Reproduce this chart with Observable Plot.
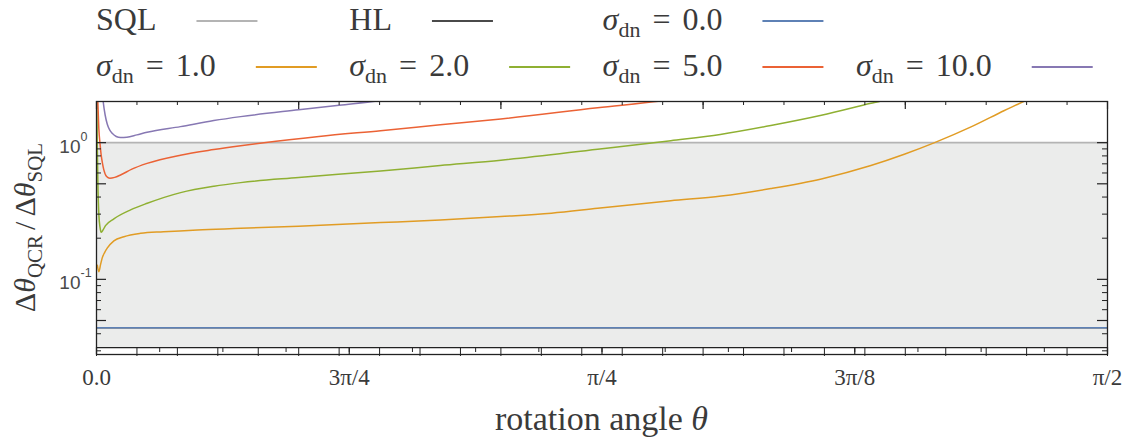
<!DOCTYPE html>
<html>
<head>
<meta charset="utf-8">
<script src="https://cdn.jsdelivr.net/npm/d3@7"></script>
<script src="https://cdn.jsdelivr.net/npm/@observablehq/plot@0.6"></script>
<style>
  html, body { margin: 0; padding: 0; background: #fff; }
  #chart { width: 1128px; height: 439px; overflow: hidden; }
  #chart svg { display: block; }
</style>
</head>
<body>
<div id="chart"></div>
<script>
// ---------------- data ----------------
// x values are the rotation angle θ in units of π/2 (0 … 1)
const sigmaLabels = ["0.0", "1.0", "2.0", "5.0", "10.0"];

const sqlLevel = 1.0;          // SQL reference (ratio = 1)
const hlLevel = 0.0443;        // HL (hidden under σ=0 line)
const bandLow = Math.pow(10, -1.5);

const sigma0X = [0, 1];
const sigma0Y = [0.0443, 0.0443];

const sigma1X = [0.0008, 0.0023, 0.0040, 0.0056, 0.0080, 0.0106, 0.0172, 0.0271, 0.0436, 0.0663, 0.0997, 0.1426, 0.200, 0.281, 0.340, 0.400, 0.450, 0.4957, 0.568, 0.618, 0.667, 0.717, 0.766, 0.799, 0.829, 0.865, 0.898, 0.918, 0.930];
const sigma1Y = [0.127, 0.1138, 0.128, 0.143, 0.157, 0.169, 0.191, 0.205, 0.217, 0.223, 0.230, 0.236, 0.245, 0.260, 0.272, 0.288, 0.305, 0.331, 0.376, 0.407, 0.462, 0.543, 0.680, 0.822, 1.000, 1.303, 1.718, 2.018, 2.240];

const sigma2X = [0.0002, 0.0008, 0.0015, 0.0023, 0.0035, 0.0046, 0.0060, 0.0089, 0.0172, 0.0337, 0.0502, 0.0832, 0.1162, 0.1426, 0.200, 0.281, 0.340, 0.400, 0.4957, 0.568, 0.617, 0.667, 0.717, 0.766, 0.776, 0.790];
const sigma2Y = [2.5, 0.90, 0.45, 0.30, 0.24, 0.221, 0.227, 0.247, 0.277, 0.322, 0.360, 0.431, 0.480, 0.510, 0.556, 0.621, 0.680, 0.743, 0.895, 1.034, 1.148, 1.334, 1.585, 1.940, 2.020, 2.150];

const sigma5X = [0.0004, 0.0013, 0.0023, 0.0035, 0.0046, 0.0060, 0.0072, 0.0100, 0.0132, 0.0180, 0.0238, 0.035, 0.050, 0.083, 0.116, 0.1426, 0.1657, 0.220, 0.281, 0.340, 0.400, 0.4957, 0.558, 0.580];
const sigma5Y = [3.5, 2.0, 1.27, 0.98, 0.813, 0.70, 0.635, 0.565, 0.549, 0.557, 0.580, 0.640, 0.705, 0.810, 0.890, 0.950, 1.000, 1.110, 1.224, 1.350, 1.490, 1.800, 2.020, 2.120];

const sigma10X = [0.0045, 0.0066, 0.0085, 0.0106, 0.0130, 0.0155, 0.0195, 0.0238, 0.030, 0.040, 0.050, 0.083, 0.116, 0.1426, 0.200, 0.240, 0.278, 0.300];
const sigma10Y = [3.0, 2.0, 1.60, 1.37, 1.24, 1.17, 1.11, 1.09, 1.095, 1.14, 1.19, 1.31, 1.45, 1.55, 1.74, 1.88, 2.02, 2.12];

// ticks
const xTickValues = [0, 0.25, 0.5, 0.75, 1];
const xTickLabels = ["0.0", "3π/4", "π/4", "3π/8", "π/2"];
const xMinorBottom = d3.range(0, 1.0001, 1 / 16);
const xTopTicks = [0, 0.2, 0.4, 0.6, 0.8, 1.0];
const xTopMinor = d3.range(0, 1.0001, 0.04);
const yTickValues = [0.1, 1];
const yTickExponents = ["-1", "0"];
const yLongTicks = [0.05, 0.1, 0.5, 1];
const yMinorTicks = [0.03, 0.04, 0.06, 0.07, 0.08, 0.09, 0.2, 0.3, 0.4, 0.6, 0.7, 0.8, 0.9];

// ---------------- styles ----------------
const colors = {
  sql: "#b4b4b4", hl: "#4a4a4a",
  s0: "#5e81b5", s1: "#e19c24", s2: "#8fb032", s5: "#eb6235", s10: "#8778b3"
};
const bandFill = "#ebeceb";
const inkColor = "#222";
const textColor = "#3a3a3a";
const serif = "Liberation Serif, serif";
const sans = "Liberation Sans, Arial, sans-serif";

// ---------------- layout ----------------
const W = 1128, legendH = 90, H = 349;
const mTop = 11, mBottom = 85, mLeft = 96, mRight = 21;
const frameW = W - mLeft - mRight, frameH = H - mTop - mBottom;
const yDomain = [0.0282, 2.0];

const toRows = (xs, ys) => xs.map((x, i) => ({x, y: ys[i]}));
const curves = [
  {key: "s0", data: toRows(sigma0X, sigma0Y)},
  {key: "s1", data: toRows(sigma1X, sigma1Y)},
  {key: "s2", data: toRows(sigma2X, sigma2Y)},
  {key: "s5", data: toRows(sigma5X, sigma5Y)},
  {key: "s10", data: toRows(sigma10X, sigma10Y)}
];

const chart = Plot.plot({
  width: W, height: H,
  marginTop: mTop, marginBottom: mBottom, marginLeft: mLeft, marginRight: mRight,
  x: {domain: [0, 1], axis: null},
  y: {type: "log", domain: yDomain, axis: null},
  marks: [
    Plot.areaY([0, 1], {x: d => d, y1: () => bandLow, y2: () => sqlLevel, fill: bandFill}),
    Plot.ruleY([sqlLevel], {stroke: colors.sql, strokeWidth: 1.6}),
    Plot.ruleY([hlLevel], {stroke: colors.hl, strokeWidth: 1.4}),
    ...curves.map(c => Plot.line(c.data, {x: "x", y: "y", stroke: colors[c.key], strokeWidth: 1.5, curve: "monotone-x", clip: true})),
    // inner ticks: top
    Plot.ruleX(xTopTicks, {x: d => d, insetBottom: frameH - 8, stroke: inkColor, strokeWidth: 1.2}),
    Plot.ruleX(xTopMinor, {x: d => d, insetBottom: frameH - 4, stroke: inkColor, strokeWidth: 1}),
    // inner ticks: left and right
    Plot.ruleY(yLongTicks, {y: d => d, insetRight: frameW - 10, stroke: inkColor, strokeWidth: 1.2}),
    Plot.ruleY(yMinorTicks, {y: d => d, insetRight: frameW - 5, stroke: inkColor, strokeWidth: 1}),
    Plot.ruleY(yLongTicks, {y: d => d, insetLeft: frameW - 10, stroke: inkColor, strokeWidth: 1.2}),
    Plot.ruleY(yMinorTicks, {y: d => d, insetLeft: frameW - 5, stroke: inkColor, strokeWidth: 1}),
    // bottom axis strip
    Plot.ruleY([bandLow], {stroke: inkColor, strokeWidth: 1.3}),
    Plot.ruleX(xMinorBottom, {x: d => d, y1: () => bandLow, y2: () => yDomain[0], insetBottom: 2, stroke: inkColor, strokeWidth: 1}),
    Plot.ruleX(xTickValues, {x: d => d, y1: () => bandLow, y2: () => yDomain[0], stroke: inkColor, strokeWidth: 1.2}),
    Plot.ruleX(xTopMinor, {x: d => d, y1: () => yDomain[0], y2: () => bandLow, insetTop: 2, stroke: inkColor, strokeWidth: 1}),
    Plot.frame({stroke: inkColor, strokeWidth: 1.3}),
    // tick labels
    Plot.text(xTickValues, {x: d => d, text: (d, i) => xTickLabels[i], frameAnchor: "bottom", dy: 30,
      fontSize: 23, fontFamily: serif, fill: textColor}),
    Plot.text(yTickValues, {y: d => d, text: () => "10", frameAnchor: "left", textAnchor: "end", dx: -16, dy: 4,
      fontSize: 19, fontFamily: sans, fill: "#4a4a4a"}),
    Plot.text(yTickValues, {y: d => d, text: (d, i) => yTickExponents[i], frameAnchor: "left", textAnchor: "start", dx: -16, dy: -6,
      fontSize: 12.5, fontFamily: sans, fill: "#4a4a4a"})
  ]
});

// ---------------- legend (above the plot) ----------------
const root = document.getElementById("chart");
const legend = d3.create("svg").attr("width", W).attr("height", legendH)
  .attr("font-family", serif).attr("fill", textColor);
root.appendChild(legend.node());
root.appendChild(chart);

const legendRows = [["sql", "hl", "s0"], ["s1", "s2", "s5", "s10"]];
const sigmaOf = {s0: sigmaLabels[0], s1: sigmaLabels[1], s2: sigmaLabels[2], s5: sigmaLabels[3], s10: sigmaLabels[4]};
const rowBaselines = [30, 76];
const colStep = 253.3;

legendRows.forEach((row, r) => {
  row.forEach((key, c) => {
    const x0 = mLeft + c * colStep;
    const t = legend.append("text").attr("x", x0).attr("y", rowBaselines[r]).attr("font-size", 32);
    if (key === "sql") t.text("SQL");
    else if (key === "hl") t.text("HL");
    else {
      t.append("tspan").attr("font-style", "italic").text("σ");
      t.append("tspan").attr("font-size", 22).attr("dy", 7).text("dn");
      t.append("tspan").attr("dy", -7).attr("dx", 12).text("=");
      t.append("tspan").attr("dx", 12).text(sigmaOf[key]);
    }
    const bb = t.node().getBBox();
    const lx = bb.x + bb.width + 40;
    legend.append("line").attr("x1", lx).attr("x2", lx + 61)
      .attr("y1", rowBaselines[r] - 9).attr("y2", rowBaselines[r] - 9)
      .attr("stroke", colors[key]).attr("stroke-width", 2);
  });
});

// ---------------- axis titles ----------------
const svg = d3.select(chart);
const xt = svg.append("text").attr("x", mLeft + frameW / 2).attr("y", 340)
  .attr("text-anchor", "middle").attr("font-family", serif).attr("font-size", 34).attr("fill", textColor);
xt.append("tspan").text("rotation angle ");
xt.append("tspan").attr("font-style", "italic").text("θ");

const yt = svg.append("text").attr("transform", `translate(35,${mTop + frameH / 2}) rotate(-90)`)
  .attr("text-anchor", "middle").attr("font-family", serif).attr("font-size", 30).attr("fill", textColor);
yt.append("tspan").text("Δ");
yt.append("tspan").attr("font-style", "italic").text("θ");
yt.append("tspan").attr("font-size", 21).attr("dy", 7).text("QCR");
yt.append("tspan").attr("dy", -7).attr("dx", 5).text("/");
yt.append("tspan").attr("dx", 5).text("Δ");
yt.append("tspan").attr("font-style", "italic").text("θ");
yt.append("tspan").attr("font-size", 21).attr("dy", 7).text("SQL");
</script>
</body>
</html>
